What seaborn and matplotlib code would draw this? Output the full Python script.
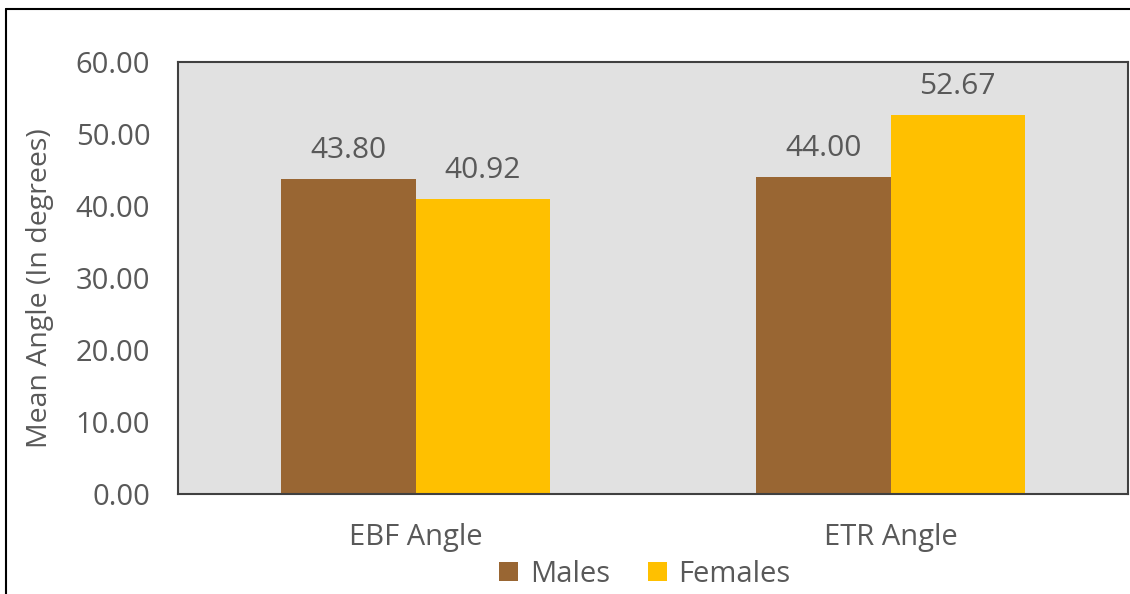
import matplotlib
matplotlib.use("Agg")
import matplotlib.pyplot as plt
import seaborn as sns
import pandas as pd
from matplotlib.lines import Line2D
from matplotlib.patches import Patch

categories = ["EBF Angle", "ETR Angle"]
groups = ["Males", "Females"]
males = [43.80, 44.00]
females = [40.92, 52.67]
yticks = [0, 10, 20, 30, 40, 50, 60]

df = pd.DataFrame({
    "Measure": categories * 2,
    "Group": [groups[0]] * 2 + [groups[1]] * 2,
    "Value": males + females,
})

sns.set_theme(style="white")
plt.rcParams["font.family"] = ["Open Sans", "DejaVu Sans"]

TXT = "#595959"
colors = {"Males": "#996633", "Females": "#FFC000"}

fig = plt.figure(figsize=(11.30, 5.94), dpi=100)
ax = fig.add_axes([178 / 1130, 1 - 494 / 594, 950 / 1130, 432 / 594])
ax.set_facecolor("#E1E1E1")

sns.barplot(data=df, x="Measure", y="Value", hue="Group", order=categories,
            hue_order=groups, palette=colors, width=0.566, gap=0,
            saturation=1, linewidth=0, ax=ax, legend=False)

for cont in ax.containers:
    ax.bar_label(cont, fmt="%.2f", padding=10, fontsize=21.5, color=TXT)

ax.set_ylim(0, 60)
ax.set_yticks(yticks)
ax.set_yticklabels([f"{v:.2f}" for v in yticks])
ax.set_xlim(-0.5, 1.5)
ax.tick_params(axis="y", labelsize=21, labelcolor=TXT, length=0, pad=20)
ax.tick_params(axis="x", labelsize=21, labelcolor=TXT, length=0, pad=21)
ax.set_xlabel("")
ax.set_ylabel("Mean Angle (In degrees)", fontsize=20.5, color=TXT)
ax.yaxis.set_label_coords(-0.131, 0.477)
for s in ax.spines.values():
    s.set_visible(True)
    s.set_color("#404040")
    s.set_linewidth(1.5)

handles = [Patch(facecolor=colors[g], edgecolor="none") for g in groups]
fig.legend(handles, groups, loc="center", bbox_to_anchor=(645 / 1130, 1 - 574 / 594),
           ncol=2, frameon=False, fontsize=21, labelcolor=TXT,
           handlelength=0.65, handleheight=0.65, handletextpad=0.4, columnspacing=1.3)

fig.add_artist(Line2D([6 / 1130, 6 / 1130], [0, 1 - 9 / 594], transform=fig.transFigure,
                      color="black", linewidth=1.5))
fig.add_artist(Line2D([6 / 1130, 1], [1 - 9 / 594, 1 - 9 / 594], transform=fig.transFigure,
                      color="black", linewidth=1.5))

fig.savefig("out.png", dpi=100, facecolor="white")
